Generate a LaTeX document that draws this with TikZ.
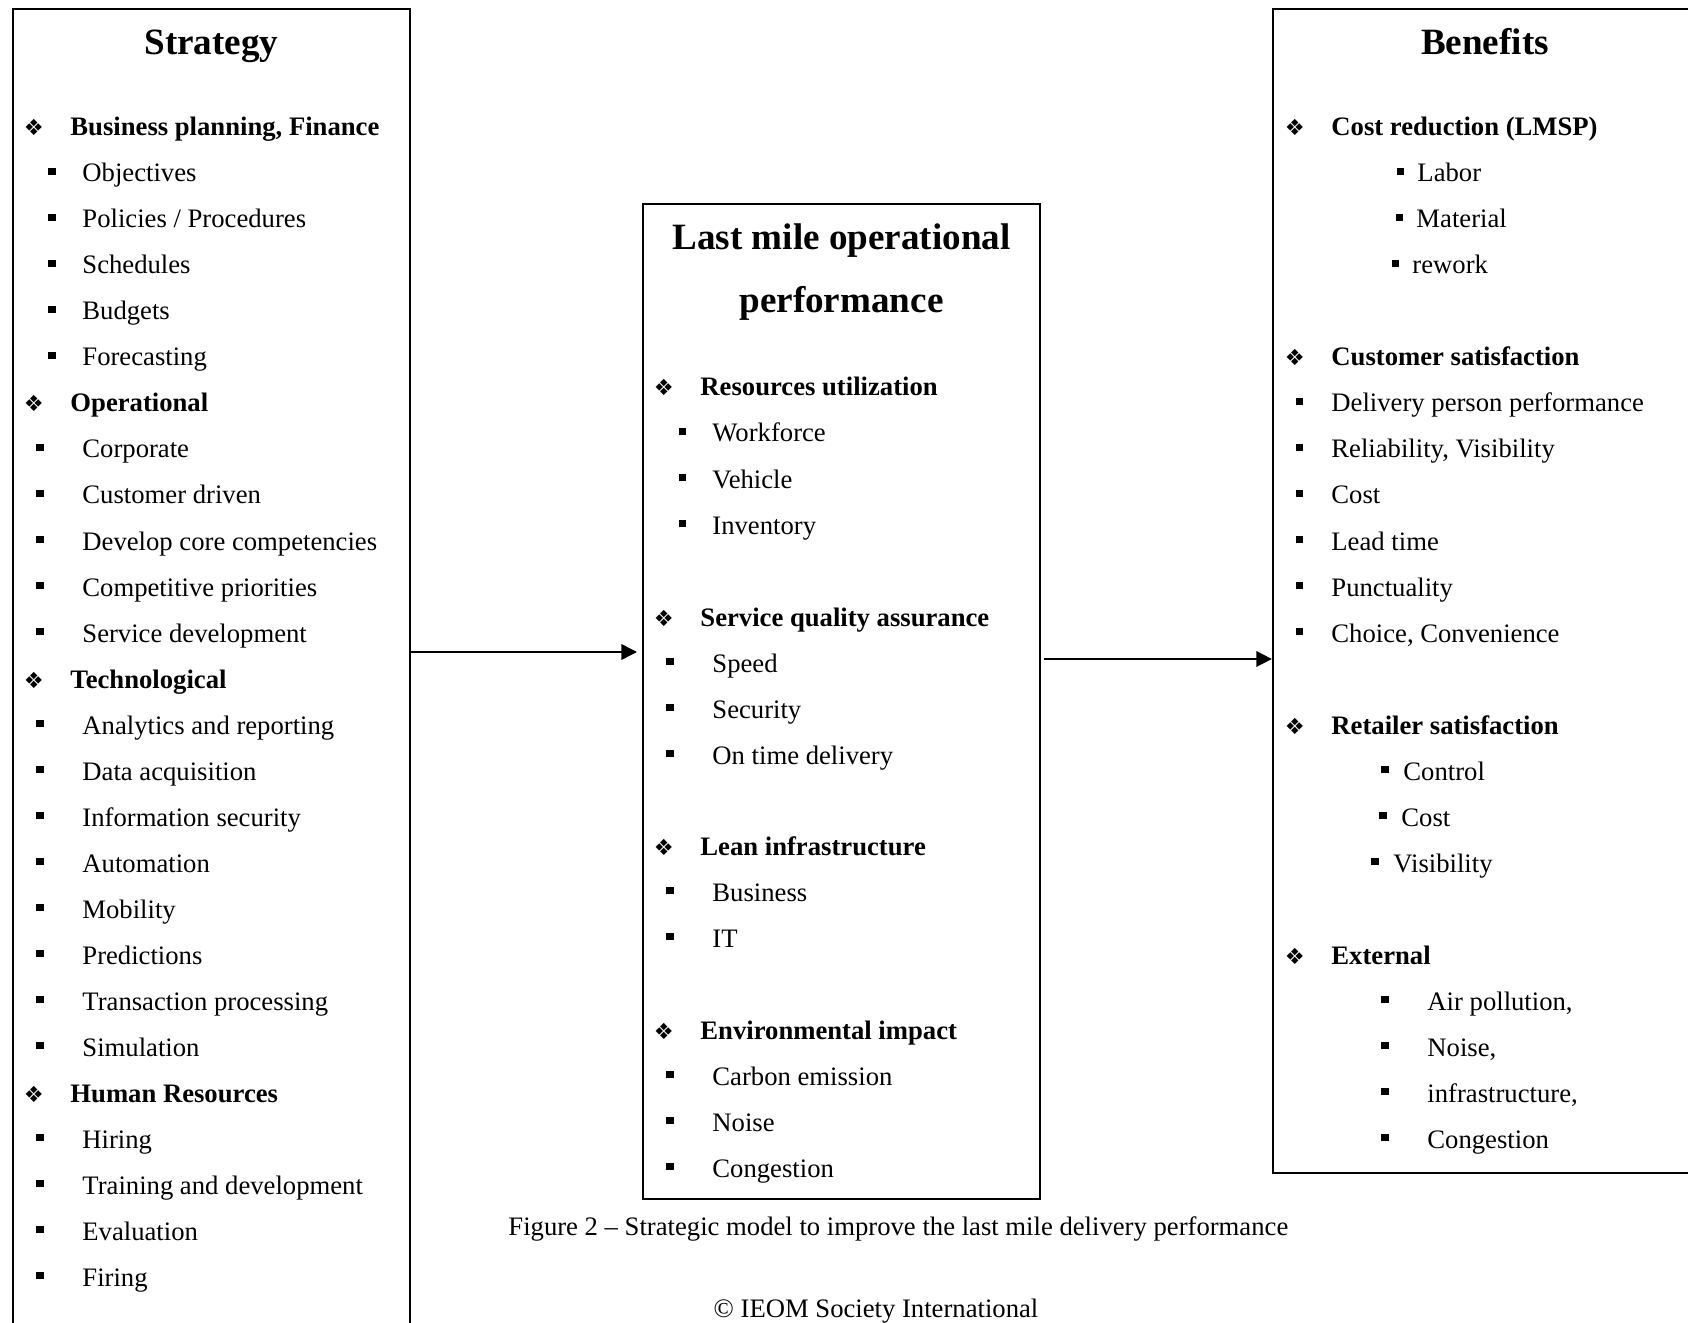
\documentclass[tikz,border=0pt]{standalone}
\usepackage{fontspec}
\setmainfont{Liberation Serif}
\newfontfamily\symfont{DejaVu Sans}
\usetikzlibrary{arrows.meta,fit}
\newcommand{\sqb}[1]{\llap{\raisebox{3pt}{\rule{3.3pt}{3.3pt}}\hspace{#1}}}
\newcommand{\dmb}{\llap{{\symfont\fontsize{10}{10}\selectfont ❖}\hspace{12pt}}}
\begin{document}
\begin{tikzpicture}[
  x=0.45pt, y=-0.45pt,
  panel/.style={draw, line width=1pt, inner sep=0pt},
  ttl/.style={anchor=base, font=\fontsize{16.7}{19}\selectfont\bfseries},
  head/.style={anchor=base west, inner sep=0pt, font=\fontsize{12}{14}\selectfont\bfseries},
  item/.style={anchor=base west, inner sep=0pt, font=\fontsize{12}{14}\selectfont},
  arr/.style={-{Triangle[length=7pt,width=7pt]}, line width=0.7pt}
]
\useasboundingbox (0,0) rectangle (1688,1323);
\clip (0,0) rectangle (1688,1323);
\node[panel, fit={(13,9) (410,1360)}] (strat) {};
\node[panel, fit={(643,204) (1040,1199)}] (perf) {};
\node[panel, fit={(1273,9) (1697,1173)}] (bene) {};

\node[ttl] (strat-t) at (211.5,55) {Strategy};
\node[head] (s1) at (70,136) {\dmb Business planning, Finance};
\node[item] (s2) at (82,182) {\sqb{12pt}Objectives};
\node[item] (s3) at (82,228) {\sqb{12pt}Policies / Procedures};
\node[item] (s4) at (82,274) {\sqb{12pt}Schedules};
\node[item] (s5) at (82,320) {\sqb{12pt}Budgets};
\node[item] (s6) at (82,366) {\sqb{12pt}Forecasting};
\node[head] (s7) at (70,412) {\dmb Operational};
\node[item] (s8) at (82,458) {\sqb{17.4pt}Corporate};
\node[item] (s9) at (82,504) {\sqb{17.4pt}Customer driven};
\node[item] (s10) at (82,550) {\sqb{17.4pt}Develop core competencies};
\node[item] (s11) at (82,596) {\sqb{17.4pt}Competitive priorities};
\node[item] (s12) at (82,642) {\sqb{17.4pt}Service development};
\node[head] (s13) at (70,688) {\dmb Technological};
\node[item] (s14) at (82,734) {\sqb{17.4pt}Analytics and reporting};
\node[item] (s15) at (82,780) {\sqb{17.4pt}Data acquisition};
\node[item] (s16) at (82,826) {\sqb{17.4pt}Information security};
\node[item] (s17) at (82,872) {\sqb{17.4pt}Automation};
\node[item] (s18) at (82,918) {\sqb{17.4pt}Mobility};
\node[item] (s19) at (82,964) {\sqb{17.4pt}Predictions};
\node[item] (s20) at (82,1010) {\sqb{17.4pt}Transaction processing};
\node[item] (s21) at (82,1056) {\sqb{17.4pt}Simulation};
\node[head] (s22) at (70,1102) {\dmb Human Resources};
\node[item] (s23) at (82,1148) {\sqb{17.4pt}Hiring};
\node[item] (s24) at (82,1194) {\sqb{17.4pt}Training and development};
\node[item] (s25) at (82,1240) {\sqb{17.4pt}Evaluation};
\node[item] (s26) at (82,1286) {\sqb{17.4pt}Firing};

\node[ttl] (perf-t1) at (841.5,250) {Last mile operational};
\node[ttl] (perf-t2) at (841.5,313) {performance};
\node[head] (p1) at (700,396) {\dmb Resources utilization};
\node[item] (p2) at (712,442) {\sqb{11.7pt}Workforce};
\node[item] (p3) at (712,488) {\sqb{11.7pt}Vehicle};
\node[item] (p4) at (712,534) {\sqb{11.7pt}Inventory};
\node[head] (p5) at (700,626) {\dmb Service quality assurance};
\node[item] (p6) at (712,672) {\sqb{17.5pt}Speed};
\node[item] (p7) at (712,718) {\sqb{17.5pt}Security};
\node[item] (p8) at (712,764) {\sqb{17.5pt}On time delivery};
\node[head] (p9) at (700,855) {\dmb Lean infrastructure};
\node[item] (p10) at (712,901) {\sqb{17.5pt}Business};
\node[item] (p11) at (712,947) {\sqb{17.5pt}IT};
\node[head] (p12) at (700,1039) {\dmb Environmental impact};
\node[item] (p13) at (712,1085) {\sqb{17.5pt}Carbon emission};
\node[item] (p14) at (712,1131) {\sqb{17.5pt}Noise};
\node[item] (p15) at (712,1177) {\sqb{17.5pt}Congestion};

\node[ttl] (bene-t) at (1485,55) {Benefits};
\node[head] (b1) at (1331,136) {\dmb Cost reduction (LMSP)};
\node[item] (b2) at (1417,182) {\sqb{6pt}Labor};
\node[item] (b3) at (1416,228) {\sqb{6pt}Material};
\node[item] (b4) at (1412,274) {\sqb{6pt}rework};
\node[head] (b5) at (1331,366) {\dmb Customer satisfaction};
\node[item] (b6) at (1331,412) {\sqb{12.6pt}Delivery person performance};
\node[item] (b7) at (1331,458) {\sqb{12.6pt}Reliability, Visibility};
\node[item] (b8) at (1331,504) {\sqb{12.6pt}Cost};
\node[item] (b9) at (1331,550) {\sqb{12.6pt}Lead time};
\node[item] (b10) at (1331,596) {\sqb{12.6pt}Punctuality};
\node[item] (b11) at (1331,642) {\sqb{12.6pt}Choice, Convenience};
\node[head] (b12) at (1331,734) {\dmb Retailer satisfaction};
\node[item] (b13) at (1403,780) {\sqb{6.7pt}Control};
\node[item] (b14) at (1401,826) {\sqb{6.7pt}Cost};
\node[item] (b15) at (1393,872) {\sqb{6.7pt}Visibility};
\node[head] (b16) at (1331,964) {\dmb External};
\node[item] (b17) at (1427,1010) {\sqb{17.5pt}Air pollution,};
\node[item] (b18) at (1427,1056) {\sqb{17.5pt}Noise,};
\node[item] (b19) at (1427,1102) {\sqb{17.5pt}infrastructure,};
\node[item] (b20) at (1427,1148) {\sqb{17.5pt}Congestion};

\node[item] (cap) at (508,1235) {Figure 2 -- Strategic model to improve the last mile delivery performance};
\node[item, anchor=base] (copy) at (876,1317) {© IEOM Society International};

\coordinate (ya) at (0,652);
\coordinate (yb) at (0,659);
\draw[arr, shorten >=2.2pt] (strat.east |- ya) -- (perf.west |- ya);
\draw[arr, shorten <=1.5pt] (perf.east |- yb) -- (bene.west |- yb);
\end{tikzpicture}
\end{document}
